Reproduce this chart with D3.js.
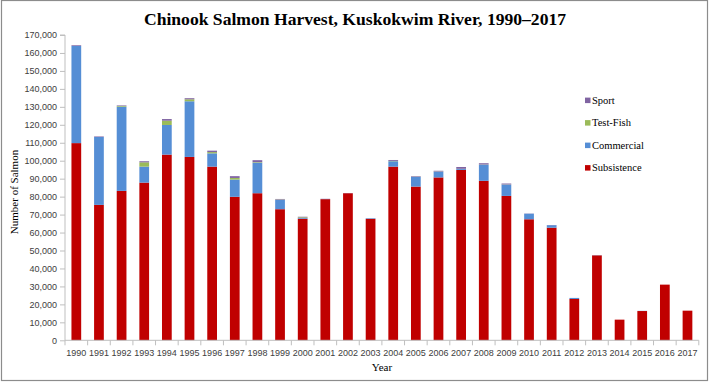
<!DOCTYPE html>
<html>
<head>
<meta charset="utf-8">
<script src="https://cdn.jsdelivr.net/npm/d3@7"></script>
<style>
  html, body { margin: 0; padding: 0; background: #fff; }
  svg { display: block; }
</style>
</head>
<body>
<script>
const years = [1990,1991,1992,1993,1994,1995,1996,1997,1998,1999,2000,2001,2002,2003,2004,2005,2006,2007,2008,2009,2010,2011,2012,2013,2014,2015,2016,2017];
const subsistence = [109800,75400,83200,87800,103400,102100,96700,79900,81900,73000,67700,78600,81900,67600,96700,85600,90700,94900,88800,80400,67400,62700,23000,47300,11500,16300,31000,16500];
const commercial  = [54100,37800,46900,8900,16500,31000,7400,9600,17000,5200,400,100,0,300,3000,5400,3200,500,9000,6300,3100,1400,600,100,0,100,0,0];
const testFish    = [0,0,400,2400,2400,1100,700,900,300,200,400,0,0,0,200,100,100,100,100,100,0,0,0,0,0,0,0,0];
const sport       = [400,300,300,600,900,600,800,1000,1100,300,300,100,100,100,500,300,400,1000,700,500,100,100,0,0,0,0,0,0];
const seriesNames = ["Subsistence","Commercial","Test-Fish","Sport"];
const seriesColors = ["#C00000","#558ED5","#9BBB59","#8064A2"];
const yTicks = d3.range(0, 170001, 10000);
const title = "Chinook Salmon Harvest, Kuskokwim River, 1990\u20132017";

const W = 710, H = 382;
const svg = d3.select("body").append("svg").attr("width", W).attr("height", H);

// frame
svg.append("rect").attr("x", 1.5).attr("y", 0.5).attr("width", 706).attr("height", 380)
  .attr("fill", "#fff").attr("stroke", "#8c8c8c").attr("stroke-width", 1.2);

const table = years.map((yr, i) => ({
  year: yr,
  Subsistence: subsistence[i],
  Commercial: commercial[i],
  "Test-Fish": testFish[i],
  Sport: sport[i]
}));
const stacked = d3.stack().keys(seriesNames)(table);

const x = d3.scaleBand().domain(years).range([65, 698.8]).paddingInner(0.57).paddingOuter(0.285);
const y = d3.scaleLinear().domain([0, 170000]).range([340.3, 35]);
const color = d3.scaleOrdinal().domain(seriesNames).range(seriesColors);

// bars
svg.append("g").selectAll("g").data(stacked).join("g")
  .attr("fill", d => color(d.key))
  .selectAll("rect").data(d => d).join("rect")
  .attr("x", d => x(d.data.year))
  .attr("width", x.bandwidth())
  .attr("y", d => y(d[1]))
  .attr("height", d => Math.max(0, y(d[0]) - y(d[1])));

const axisColor = "#bfbfbf";
const textColor = "#404040";

// y axis
const yAxis = svg.append("g").attr("transform", "translate(65,0)")
  .call(d3.axisLeft(y).tickValues(yTicks).tickFormat(d3.format(",")).tickSize(5).tickPadding(3));
yAxis.selectAll("path, line").attr("stroke", axisColor);
yAxis.select(".domain").attr("d", `M-5,${y(170000)}H0V${y(0)}`);
yAxis.selectAll("text").attr("fill", textColor).style("font-family", "'Liberation Sans', Arial, sans-serif").style("font-size", "9px");

// x axis
const xAxis = svg.append("g").attr("transform", `translate(0,${y(0)})`)
  .call(d3.axisBottom(x).tickSize(0).tickPadding(9));
xAxis.select(".domain").attr("stroke", axisColor).attr("d", `M${x.range()[0]},0H${x.range()[1]}`);
xAxis.selectAll("text").attr("fill", textColor).style("font-family", "'Liberation Sans', Arial, sans-serif").style("font-size", "9px");
// boundary ticks
const bounds = years.map(yr => x(yr) + x.bandwidth() / 2 - x.step() / 2).concat([x.range()[1]]);
xAxis.append("g").selectAll("line").data(bounds).join("line")
  .attr("x1", d => d).attr("x2", d => d).attr("y1", 0).attr("y2", 5)
  .attr("stroke", axisColor);

// title
svg.append("text").attr("x", 355).attr("y", 25).attr("text-anchor", "middle")
  .style("font-family", "'Liberation Serif', 'Times New Roman', serif")
  .style("font-weight", "bold").style("font-size", "17.6px").attr("fill", "#000")
  .text(title);

// axis titles
svg.append("text").attr("transform", "translate(18,192) rotate(-90)").attr("text-anchor", "middle")
  .style("font-family", "'Liberation Serif', 'Times New Roman', serif").style("font-size", "11px").attr("fill", "#000")
  .text("Number of Salmon");
svg.append("text").attr("x", 382).attr("y", 371).attr("text-anchor", "middle")
  .style("font-family", "'Liberation Serif', 'Times New Roman', serif").style("font-size", "11px").attr("fill", "#000")
  .text("Year");

// legend (top to bottom: Sport, Test-Fish, Commercial, Subsistence)
const legendItems = seriesNames.slice().reverse();
const legendY = d3.scalePoint().domain(legendItems).range([100.3, 167.8]);
const lg = svg.append("g").selectAll("g").data(legendItems).join("g")
  .attr("transform", d => `translate(585,${legendY(d)})`);
lg.append("rect").attr("x", 0).attr("y", -2.7).attr("width", 5.5).attr("height", 5.5).attr("fill", d => color(d));
lg.append("text").attr("x", 7).attr("y", 0).attr("dy", "0.35em")
  .style("font-family", "'Liberation Serif', 'Times New Roman', serif").style("font-size", "10.5px").attr("fill", "#000")
  .text(d => d);
</script>
</body>
</html>
